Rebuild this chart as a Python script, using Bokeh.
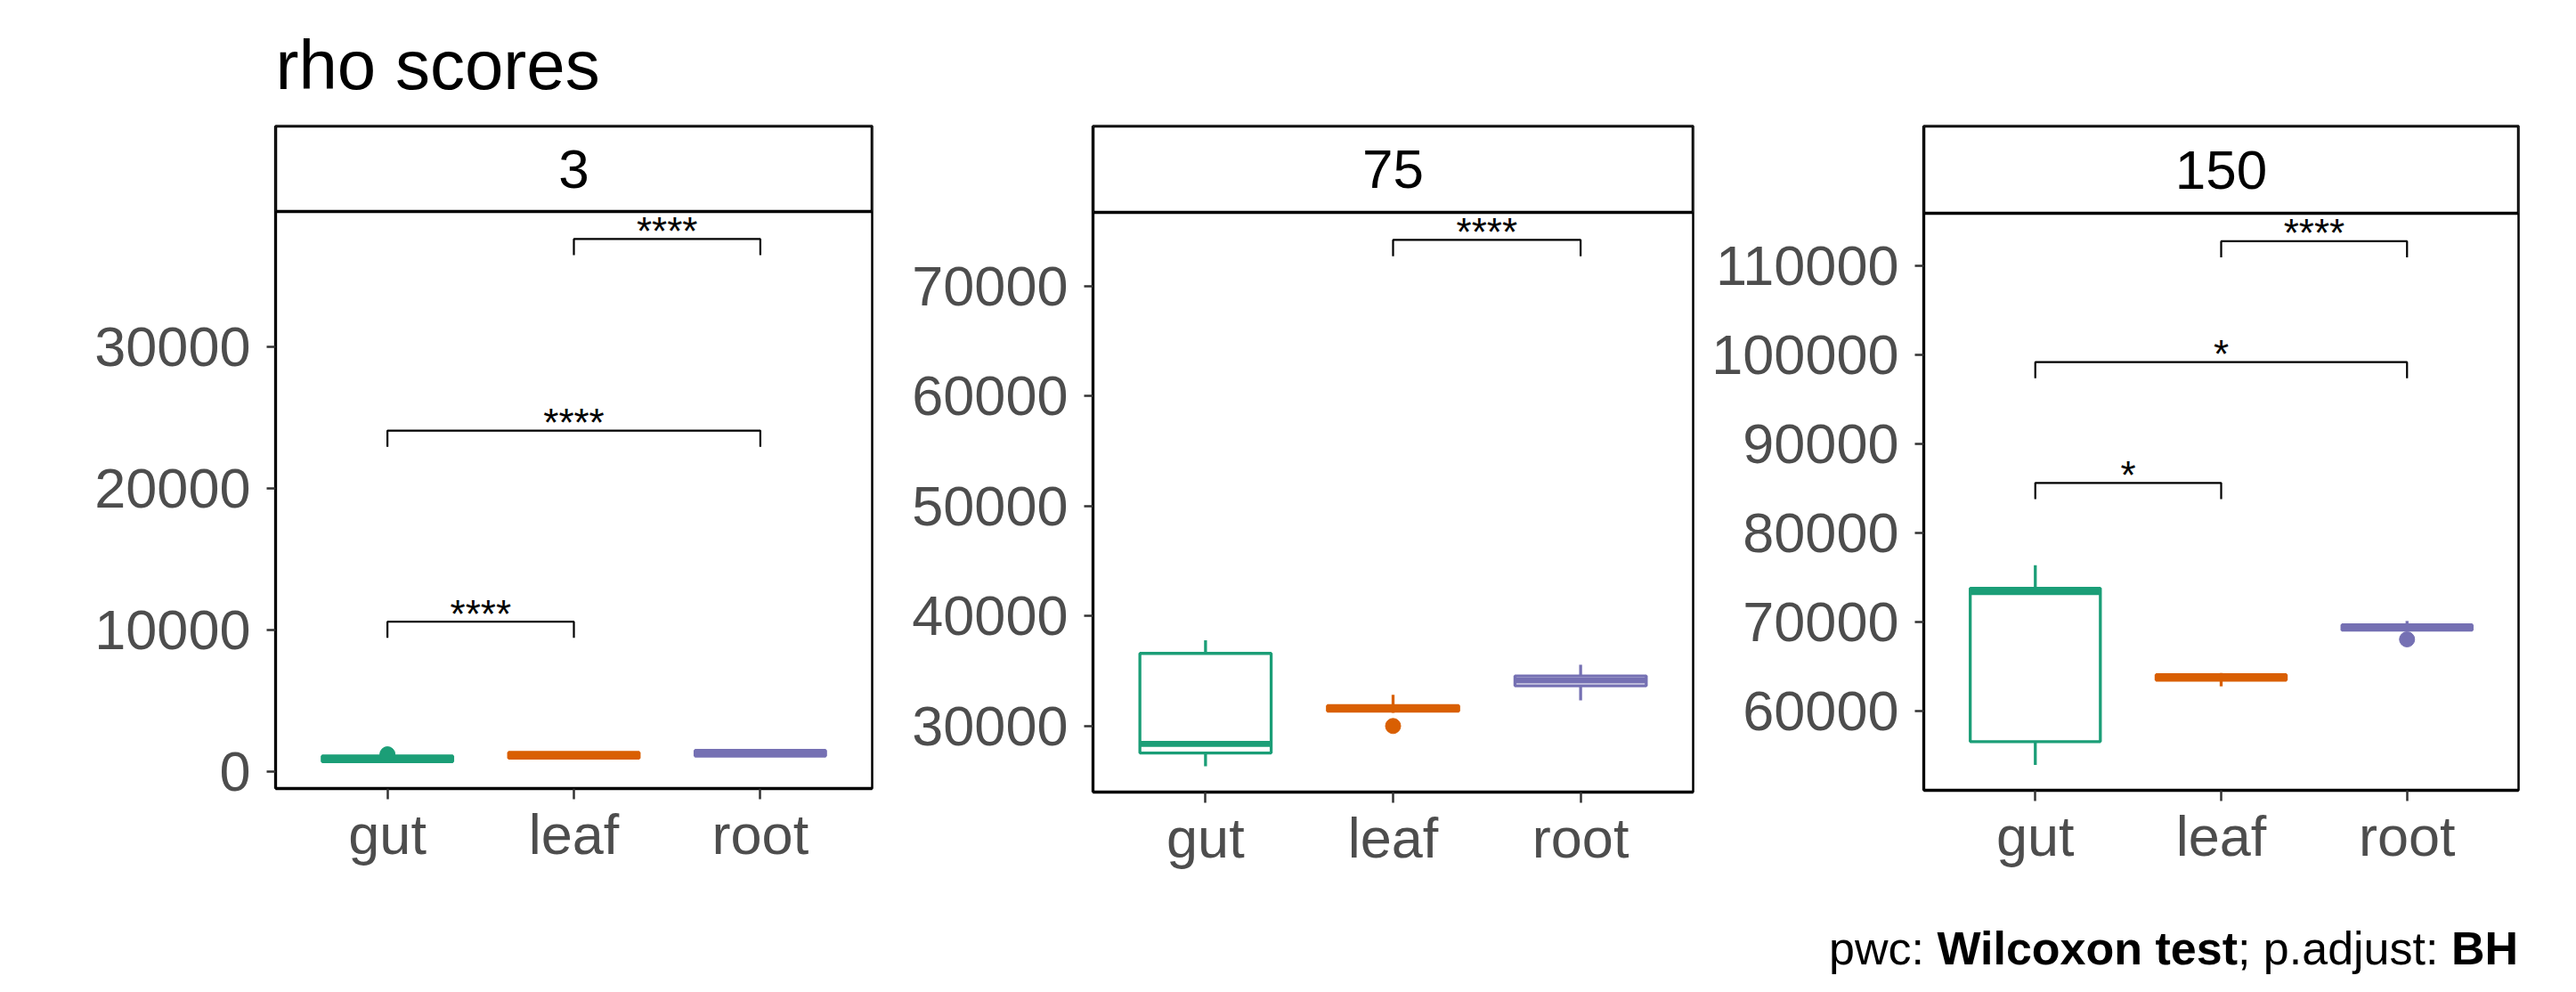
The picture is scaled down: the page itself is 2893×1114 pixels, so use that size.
from bokeh.plotting import figure
from bokeh.models import Range1d, FixedTicker, BoxAnnotation, Label, Div
from bokeh.layouts import row, column
from bokeh.embed import file_html
from bokeh.resources import INLINE
from bokeh.core.properties import value

# ---------------- data ----------------
groups = ["gut", "leaf", "root"]
colors = ["#1B9E77", "#D95F02", "#7570B3"]
facets = ["3", "75", "150"]

# facet "3": boxplot statistics per group (gut, leaf, root)
low_3 = [650, 900, 1050]
q1_3 = [700, 950, 1100]
med_3 = [900, 1150, 1300]
q3_3 = [1100, 1350, 1500]
high_3 = [1150, 1400, 1550]
out_g_3 = ["gut"]
out_y_3 = [1220]

# facet "75"
low_75 = [26350, 31200, 32330]
q1_75 = [27550, 31350, 33650]
med_75 = [28370, 31600, 34130]
q3_75 = [36600, 31850, 34550]
high_75 = [37790, 32840, 35570]
out_g_75 = ["leaf"]
out_y_75 = [30000]

# facet "150"
low_150 = [54000, 62800, 69000]
q1_150 = [56600, 63500, 69100]
med_150 = [73360, 63800, 69420]
q3_150 = [73800, 64100, 69700]
high_150 = [76390, 64300, 70130]
out_g_150 = ["root"]
out_y_150 = [68070]

# pairwise comparison brackets
br_a_3 = ["leaf", "gut", "gut"]
br_b_3 = ["root", "root", "leaf"]
br_y_3 = [37590, 24070, 10580]
br_lab_3 = ["****", "****", "****"]

br_a_75 = ["leaf"]
br_b_75 = ["root"]
br_y_75 = [74180]
br_lab_75 = ["****"]

br_a_150 = ["leaf", "gut", "gut"]
br_b_150 = ["root", "root", "leaf"]
br_y_150 = [112710, 99160, 85610]
br_lab_150 = ["****", "*", "*"]

# y axis ticks and panel limits
ticks_3 = [0, 10000, 20000, 30000]
ticks_75 = [30000, 40000, 50000, 60000, 70000]
ticks_150 = [60000, 70000, 80000, 90000, 100000, 110000]
lim_3 = [-1194, 39535]
lim_75 = [23994, 76686]
lim_150 = [51142, 115852]

title_text = "rho scores"
FONT = "Liberation Sans"

panels = [
    dict(facet=facets[0], low=low_3, q1=q1_3, med=med_3, q3=q3_3, high=high_3,
         og=out_g_3, oy=out_y_3, ba=br_a_3, bb=br_b_3, by=br_y_3, bl=br_lab_3,
         ticks=ticks_3, lim=lim_3,
         bl_px=309, fw=670, br_px=21, bt=141, fh=744, bbot=115, strip=96),
    dict(facet=facets[1], low=low_75, q1=q1_75, med=med_75, q3=q3_75, high=high_75,
         og=out_g_75, oy=out_y_75, ba=br_a_75, bb=br_b_75, by=br_y_75, bl=br_lab_75,
         ticks=ticks_75, lim=lim_75,
         bl_px=227, fw=674, br_px=9, bt=136, fh=748, bbot=116, strip=97),
    dict(facet=facets[2], low=low_150, q1=q1_150, med=med_150, q3=q3_150, high=high_150,
         og=out_g_150, oy=out_y_150, ba=br_a_150, bb=br_b_150, by=br_y_150, bl=br_lab_150,
         ticks=ticks_150, lim=lim_150,
         bl_px=250, fw=668, br_px=49, bt=132, fh=746, bbot=122, strip=98),
]

BOX_W = 0.7
TIP = 0.028

figs = []
for i, d in enumerate(panels):
    lo, hi = d["lim"]
    panel_h = d["fh"] - d["strip"]
    strip_data = (hi - lo) * d["strip"] / panel_h
    p = figure(output_backend="svg", toolbar_location=None,
               frame_width=d["fw"], frame_height=d["fh"],
               min_border_left=d["bl_px"], min_border_right=d["br_px"],
               min_border_top=d["bt"], min_border_bottom=d["bbot"],
               x_range=Range1d(0.4, 3.6), y_range=Range1d(lo, hi + strip_data),
               title=title_text if i == 0 else None)
    p.background_fill_color = "white"
    p.border_fill_color = "white"
    p.grid.visible = False
    p.outline_line_color = "black"
    p.outline_line_width = 2.5
    if i == 0:
        p.title.text_font = FONT
        p.title.text_font_size = "78px"
        p.title.text_font_style = "normal"
        p.title.text_color = "black"
        p.title.align = "left"
        p.title.standoff = 50

    xs = [k + 1 for k in range(len(groups))]
    pos = {g: k + 1 for k, g in enumerate(groups)}

    # axes
    for ax in (p.xaxis[0], p.yaxis[0]):
        ax.axis_line_width = 3.3
        ax.axis_line_color = "black"
        ax.major_tick_line_width = 2.5
        ax.major_tick_line_color = "#333333"
        ax.major_tick_in = 0
        ax.minor_tick_line_color = None
        ax.major_label_text_font = FONT
        ax.major_label_text_font_size = "63px"
        ax.major_label_text_color = "#4D4D4D"
    p.xaxis.ticker = FixedTicker(ticks=xs)
    p.xaxis.major_label_overrides = {k + 1: g for k, g in enumerate(groups)}
    p.xaxis.major_tick_out = 12
    p.xaxis.major_label_standoff = 4
    p.yaxis.ticker = FixedTicker(ticks=d["ticks"])
    p.yaxis.formatter.use_scientific = False
    p.yaxis.major_tick_out = 10
    p.yaxis.major_label_standoff = 18

    # boxplots
    left = [x - BOX_W / 2 for x in xs]
    right = [x + BOX_W / 2 for x in xs]
    p.segment(x0=xs, y0=d["q3"], x1=xs, y1=d["high"], line_color=colors, line_width=3.3)
    p.segment(x0=xs, y0=d["q1"], x1=xs, y1=d["low"], line_color=colors, line_width=3.3)
    p.quad(left=left, right=right, bottom=d["q1"], top=d["q3"], fill_color="white",
           line_color=colors, line_width=3.3)
    p.segment(x0=left, y0=d["med"], x1=right, y1=d["med"], line_color=colors, line_width=6.7)
    oc = [colors[pos[g] - 1] for g in d["og"]]
    p.scatter(x=[pos[g] for g in d["og"]], y=d["oy"], size=17, color=oc)

    # brackets
    tip = TIP * (hi - lo)
    bxs, bys, mids = [], [], []
    for a, b, y in zip(d["ba"], d["bb"], d["by"]):
        xa, xb = pos[a], pos[b]
        bxs.append([xa, xa, xb, xb])
        bys.append([y - tip, y, y, y - tip])
        mids.append((xa + xb) / 2)
    p.multi_line(xs=bxs, ys=bys, line_color="black", line_width=2.2)
    p.text(x=mids, y=d["by"], text=d["bl"], text_font=value(FONT), text_font_size="44px",
           text_align="center", text_baseline="alphabetic", y_offset=-9, text_color="black")

    # facet strip
    p.add_layout(BoxAnnotation(bottom=hi, fill_color="white", fill_alpha=1.0,
                               line_color="black", line_width=3.5, line_alpha=1.0))
    p.add_layout(Label(x=2, y=hi + strip_data / 2, text=d["facet"], text_font=FONT,
                       text_font_size="62px", text_align="center", text_baseline="middle",
                       text_color="black"))
    figs.append(p)

footer = Div(text='pwc: <b>Wilcoxon test</b>; p.adjust: <b>BH</b>', width=2828, height=64,
             margin=(34, 0, 0, 0),
             styles={"font-family": FONT, "font-size": "52px", "text-align": "right",
                     "color": "black", "line-height": "62px"})

layout = column(row(*figs), footer)
open("out.html", "w").write(file_html(layout, INLINE))
